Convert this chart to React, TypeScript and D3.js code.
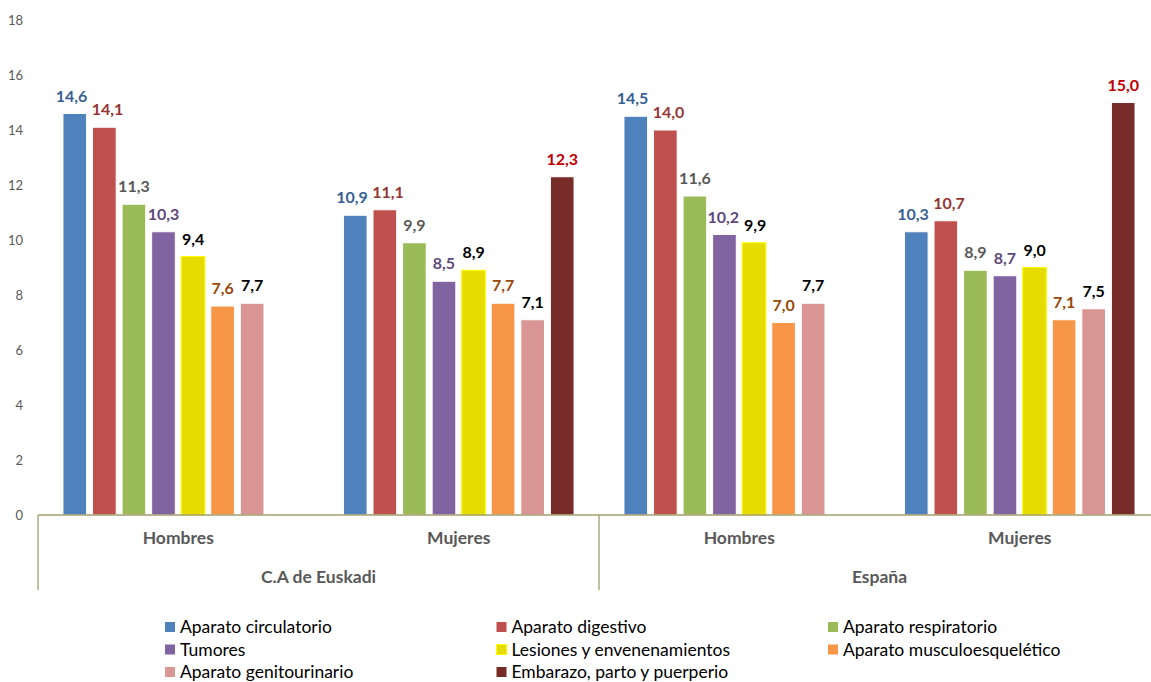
import * as d3 from "d3";

const regions = ["C.A de Euskadi", "España"];
const sexes = ["Hombres", "Mujeres"];
const series = [
  "Aparato circulatorio",
  "Aparato digestivo",
  "Aparato respiratorio",
  "Tumores",
  "Lesiones y envenenamientos",
  "Aparato musculoesquelético",
  "Aparato genitourinario",
  "Embarazo, parto y puerperio",
];
// one array per region/sex, in series order (null = no bar)
const euskadiHombres = [14.6, 14.1, 11.3, 10.3, 9.4, 7.6, 7.7, null];
const euskadiMujeres = [10.9, 11.1, 9.9, 8.5, 8.9, 7.7, 7.1, 12.3];
const espanaHombres = [14.5, 14.0, 11.6, 10.2, 9.9, 7.0, 7.7, null];
const espanaMujeres = [10.3, 10.7, 8.9, 8.7, 9.0, 7.1, 7.5, 15.0];
const yTicks = [0, 2, 4, 6, 8, 10, 12, 14, 16, 18];

const fills = ["#4F81BD", "#C0504D", "#9BBB59", "#8064A2", "#E6DC00", "#F79646", "#DA9694", "#772C2A"];
const labelColors = ["#376092", "#953735", "#595959", "#604A7B", "#000000", "#984807", "#000000", "#C00000"];

const W = 1151;
const H = 682;
const font = "Lato, 'Open Sans', sans-serif";
const axisColor = "#A39E6E";
const labelSize = 16;

const App = () => {
  const groups = [
    { region: regions[0], sex: sexes[0], values: euskadiHombres },
    { region: regions[0], sex: sexes[1], values: euskadiMujeres },
    { region: regions[1], sex: sexes[0], values: espanaHombres },
    { region: regions[1], sex: sexes[1], values: espanaMujeres },
  ];
  const keys = groups.map((g) => g.region + "|" + g.sex);

  const x0 = d3.scaleBand<string>().domain(keys).range([38, 1160]).padding(0);
  const cw = x0.bandwidth();
  const x1 = d3
    .scaleBand<number>()
    .domain(series.map((_d, i) => i))
    .range([22, cw - 22])
    .paddingInner(0.2)
    .paddingOuter(0.1);
  const y = d3.scaleLinear().domain([0, 18]).range([515, 20]);

  const regionX = d3.scaleBand<string>().domain(regions).range([38, 1160]).padding(0);

  // label positions, nudged apart when neighbours collide
  const labelsFor = (values: (number | null)[]) => {
    const labs = values.map((v, i) =>
      v == null
        ? null
        : {
            i,
            text: v.toFixed(1).replace(".", ","),
            x: (x1(i) as number) + x1.bandwidth() / 2,
            y: y(v) - 12,
            w: v.toFixed(1).length * labelSize * 0.5,
          }
    );
    for (let k = 1; k < labs.length; k++) {
      const a = labs[k - 1];
      const b = labs[k];
      if (!a || !b) continue;
      if (Math.abs(a.y - b.y) > labelSize) continue;
      const need = a.w / 2 + b.w / 2 + 4 - (b.x - a.x);
      if (need > 0) {
        a.x -= need / 2;
        b.x += need / 2;
      }
    }
    return labs;
  };

  return (
    <svg
      width={W}
      height={H}
      style={{ position: "absolute", left: 0, top: 0, display: "block", background: "#fff" }}
      fontFamily={font}
    >
      {/* y ticks */}
      {yTicks.map((t) => (
        <text key={t} x={23} y={y(t)} dy="0.35em" textAnchor="end" fontSize={13} fill="#595959">
          {t}
        </text>
      ))}

      {/* bars */}
      {groups.map((g, gi) => (
        <g key={keys[gi]} transform={`translate(${x0(keys[gi])},0)`}>
          {g.values.map((v, i) =>
            v == null ? null : (
              <rect
                key={i}
                x={x1(i)}
                y={y(v)}
                width={x1.bandwidth()}
                height={y(0) - y(v)}
                fill={fills[i]}
                stroke={i === 4 ? "#FFFF00" : "#fff"}
                strokeWidth={1}
              />
            )
          )}
          {labelsFor(g.values).map((l) =>
            l == null ? null : (
              <text
                key={"l" + l.i}
                x={l.x}
                y={l.y}
                textAnchor="middle"
                fontSize={labelSize}
                fontWeight="bold"
                fill={labelColors[l.i]}
              >
                {l.text}
              </text>
            )
          )}
        </g>
      ))}

      {/* category axis */}
      <line x1={38} x2={1160} y1={y(0)} y2={y(0)} stroke={axisColor} strokeWidth={1.3} />
      {regions.map((r) => (
        <line
          key={r}
          x1={regionX(r)}
          x2={regionX(r)}
          y1={y(0)}
          y2={590}
          stroke={axisColor}
          strokeWidth={1.3}
        />
      ))}
      {groups.map((g, gi) => (
        <text
          key={"s" + gi}
          x={(x0(keys[gi]) as number) + cw / 2}
          y={544}
          textAnchor="middle"
          fontSize={17.5}
          fontWeight="bold"
          fill="#595959"
        >
          {g.sex}
        </text>
      ))}
      {regions.map((r) => (
        <text
          key={"r" + r}
          x={(regionX(r) as number) + regionX.bandwidth() / 2}
          y={583}
          textAnchor="middle"
          fontSize={17.5}
          fontWeight="bold"
          fill="#595959"
        >
          {r}
        </text>
      ))}

      {/* legend */}
      {series.map((s, i) => {
        const col = i % 3;
        const row = Math.floor(i / 3);
        const lx = 165 + col * 331.5;
        const ly = 627 + row * 22.5;
        return (
          <g key={s} transform={`translate(${lx},${ly})`}>
            <rect
              x={0}
              y={-5}
              width={10}
              height={10}
              fill={fills[i]}
              stroke={i === 4 ? "#FFFF00" : "none"}
            />
            <text x={15} y={0} dy="0.35em" fontSize={17.5} fill="#000">
              {s}
            </text>
          </g>
        );
      })}
    </svg>
  );
};

export default App;
